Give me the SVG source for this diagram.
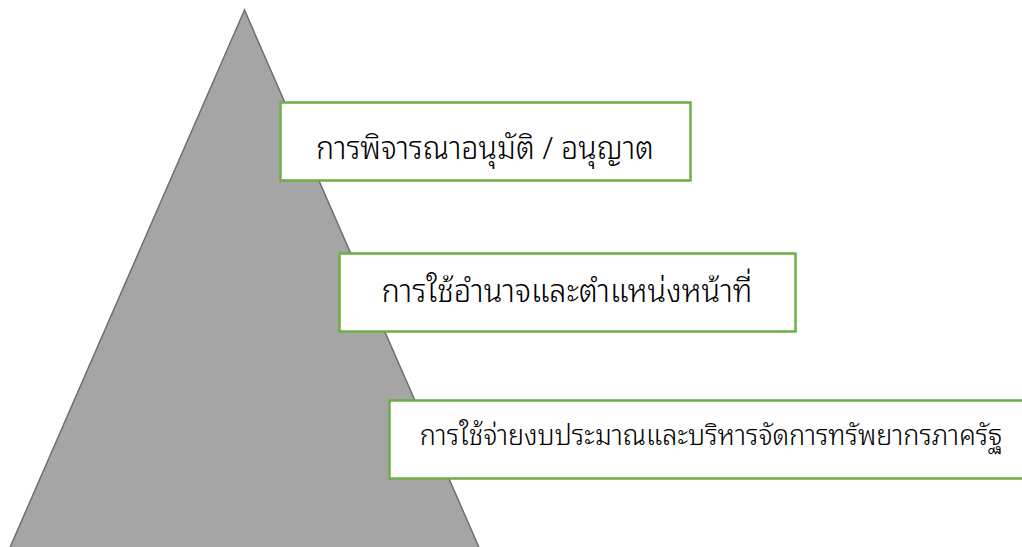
<svg xmlns="http://www.w3.org/2000/svg" width="1022" height="547" viewBox="0 0 1022 547">
<style>
.box{fill:#ffffff;stroke:#70ad47;stroke-width:2.5}
.lbl{font-family:"Noto Sans Thai Looped","Noto Sans","DejaVu Sans",sans-serif;font-weight:300;fill:#000000;text-anchor:middle}
</style>
<rect x="0" y="0" width="1022" height="547" fill="#ffffff"/>
<g id="pyramid">
<polygon points="244.5,10 8,552 481,552" fill="#a5a5a5" stroke="#6f6f6f" stroke-width="1.5"/>
</g>
<g id="connectors"></g>
<g id="node1">
<rect class="box" x="280.5" y="102.5" width="410" height="78"/>
<text class="lbl" transform="translate(485,159) scale(1,1.05)" font-size="30.4">การพิจารณาอนุมัติ / อนุญาต</text>
</g>
<g id="node2">
<rect class="box" x="339.5" y="253.5" width="456" height="78"/>
<text class="lbl" transform="translate(567,302) scale(1,1.05)" font-size="30.8">การใช้อำนาจและตำแหน่งหน้าที่</text>
</g>
<g id="node3">
<rect class="box" x="389.5" y="400.5" width="640" height="78"/>
<text class="lbl" transform="translate(711,445) scale(1,1.05)" font-size="27">การใช้จ่ายงบประมาณและบริหารจัดการทรัพยากรภาครัฐ</text>
</g>
</svg>
